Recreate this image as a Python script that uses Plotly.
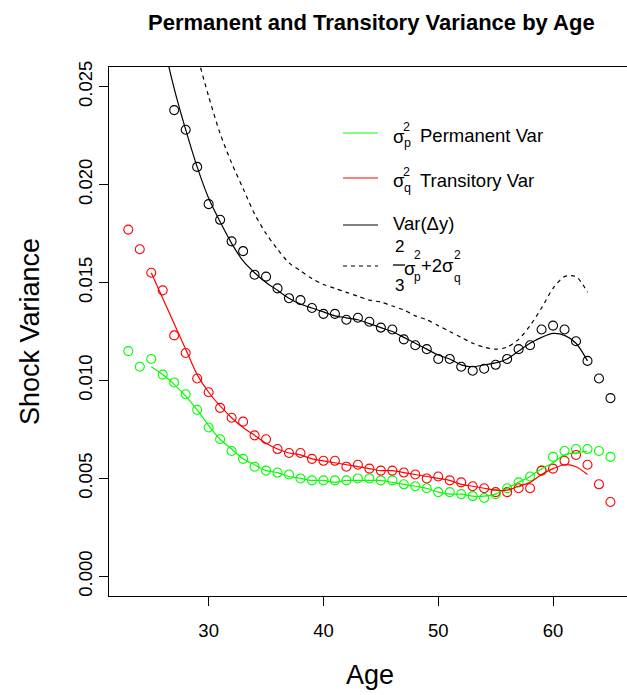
import plotly.graph_objects as go

# ---------------- data ----------------
ages = list(range(23, 66))
fit_ages = list(range(25, 64))

var_dy_pts = [None, None, None, None,
              0.0238, 0.0228, 0.0209, 0.0190, 0.0182, 0.0171, 0.0166, 0.0154, 0.0153, 0.0147,
              0.0142, 0.0141, 0.0137, 0.0134, 0.0134, 0.0131, 0.0132, 0.0130, 0.0127, 0.0126,
              0.0121, 0.0118, 0.0116, 0.0111, 0.0111, 0.0107, 0.0105, 0.0106, 0.0108, 0.0111,
              0.0116, 0.0118, 0.0126, 0.0128, 0.0126, 0.0120, 0.0110, 0.0101, 0.0091]

trans_pts = [0.0177, 0.0167, 0.0155, 0.0146, 0.0123, 0.0114, 0.0101, 0.0094, 0.0086, 0.0081,
             0.0079, 0.0072, 0.0070, 0.0065, 0.0063, 0.0063, 0.0060, 0.0059, 0.0059, 0.0056,
             0.0057, 0.0055, 0.0054, 0.0054, 0.0053, 0.0052, 0.0050, 0.0051, 0.0049, 0.0048,
             0.0046, 0.0045, 0.0043, 0.0043, 0.0045, 0.0045, 0.0054, 0.0055, 0.0059, 0.0062,
             0.0057, 0.0047, 0.0038]

perm_pts = [0.0115, 0.0107, 0.0111, 0.0103, 0.0099, 0.0093, 0.0085, 0.0076, 0.0070, 0.0064,
            0.0060, 0.0056, 0.0054, 0.0053, 0.0052, 0.0050, 0.0049, 0.0049, 0.0049, 0.0049,
            0.0050, 0.0050, 0.0049, 0.0049, 0.0047, 0.0046, 0.0045, 0.0043, 0.0043, 0.0042,
            0.0041, 0.0040, 0.0042, 0.0045, 0.0048, 0.0051, 0.0054, 0.0061, 0.0064, 0.0065,
            0.0065, 0.0064, 0.0061]

# fitted curves, ages 25..63
var_dy_fit = [0.0304, 0.0274, 0.0249, 0.0228, 0.0209, 0.0193, 0.0181, 0.0170, 0.0161, 0.0155,
              0.0150, 0.0146, 0.0142, 0.0139, 0.0137, 0.0135, 0.0133, 0.0132, 0.0131, 0.0129,
              0.0127, 0.0125, 0.0122, 0.0119, 0.0116, 0.0113, 0.0111, 0.0108, 0.0107, 0.0108,
              0.0109, 0.0111, 0.0115, 0.0119, 0.0122, 0.0124, 0.0123, 0.0119, 0.0110]

trans_fit = [0.0155, 0.0142, 0.0129, 0.0116, 0.0103, 0.0094, 0.0087, 0.0081, 0.0076, 0.0072,
             0.0068, 0.0065, 0.0063, 0.0062, 0.0060, 0.0059, 0.0058, 0.0057, 0.0056, 0.0055,
             0.0054, 0.0054, 0.0053, 0.0052, 0.0051, 0.0050, 0.0049, 0.0047, 0.0046, 0.0045,
             0.0044, 0.0044, 0.0046, 0.0048, 0.0052, 0.0055, 0.0057, 0.0056, 0.0052]

perm_fit = [0.0107, 0.0103, 0.0098, 0.0092, 0.0085, 0.0077, 0.0070, 0.0065, 0.0060, 0.0057,
            0.0054, 0.0053, 0.0051, 0.0050, 0.0049, 0.0049, 0.0048, 0.0049, 0.0049, 0.0049,
            0.0049, 0.0048, 0.0047, 0.0046, 0.0045, 0.0043, 0.0042, 0.0042, 0.0041, 0.0041,
            0.0042, 0.0045, 0.0048, 0.0051, 0.0055, 0.0058, 0.0062, 0.0063, 0.0064]

implied_fit = [0.0400, 0.0350, 0.0315, 0.0288, 0.0266, 0.0245, 0.0226, 0.0211, 0.0198, 0.0185,
               0.0175, 0.0167, 0.0160, 0.0156, 0.0152, 0.0149, 0.0147, 0.0145, 0.0143, 0.0141,
               0.0140, 0.0138, 0.0136, 0.0133, 0.0131, 0.0128, 0.0125, 0.0122, 0.0119, 0.0117,
               0.0116, 0.0117, 0.0121, 0.0128, 0.0137, 0.0147, 0.0153, 0.0153, 0.0145]

x_ticks = [30, 40, 50, 60]
y_ticks = [0.000, 0.005, 0.010, 0.015, 0.020, 0.025]
y_tick_labels = ["0.000", "0.005", "0.010", "0.015", "0.020", "0.025"]

GREEN = "#00FF00"
RED = "#FF0000"
BLACK = "#000000"
FONT = "Liberation Sans, Arial, Helvetica, sans-serif"

# ---------------- figure ----------------
W, H = 627, 695
ML, MT, MB = 109, 67, 99
PW, PH = W - ML, H - MT - MB


def P(xp, yp):
    return (xp - ML) / PW, (H - MB - yp) / PH


fig = go.Figure()

for pts, col in [(perm_pts, GREEN), (trans_pts, RED), (var_dy_pts, BLACK)]:
    fig.add_trace(go.Scatter(x=ages, y=pts, mode="markers", showlegend=False,
                             marker=dict(symbol="circle-open", size=9, color=col,
                                         line=dict(width=1.1, color=col))))

for fit, col, dash in [(perm_fit, GREEN, "solid"), (trans_fit, RED, "solid"),
                       (var_dy_fit, BLACK, "solid"), (implied_fit, BLACK, "4px,4px")]:
    fig.add_trace(go.Scatter(x=fit_ages, y=fit, mode="lines", showlegend=False,
                             line=dict(color=col, width=1.2, dash=dash,
                                       shape="spline", smoothing=0.8)))

ann = []


def text(xp, yp, s, size=18.5, anchor="left", bold=False, angle=0):
    x, y = P(xp, yp)
    ann.append(dict(x=x, y=y, xref="paper", yref="paper", text=("<b>%s</b>" % s) if bold else s,
                    showarrow=False, xanchor=anchor, yanchor="middle", textangle=angle,
                    font=dict(family=FONT, size=size, color="black")))


# title and axis titles
text(371, 22, "Permanent and Transitory Variance by Age", size=22, anchor="center", bold=True)
text(370, 675, "Age", size=27, anchor="center")
text(30, 332, "Shock Variance", size=27, anchor="center", angle=-90)

# legend
shapes = []


def lline(y, col, dash="solid"):
    x0, yy = P(343, y)
    x1, _ = P(378, y)
    shapes.append(dict(type="line", xref="paper", yref="paper", x0=x0, x1=x1, y0=yy, y1=yy,
                       line=dict(color=col, width=1.2, dash=dash)))


lline(133, GREEN)
lline(178, RED)
lline(225, BLACK)
lline(266, BLACK, "4px,4px")

# sigma_p^2 Permanent Var
text(391, 136, "σ")
text(401, 127, "2", size=12.5)
text(402, 143, "p", size=12.5)
text(418, 135, "Permanent Var")
# sigma_q^2 Transitory Var
text(391, 181, "σ")
text(401, 172, "2", size=12.5)
text(402, 188, "q", size=12.5)
text(418, 180, "Transitory Var")
# Var(Δy)
text(391, 224, "Var(Δy)")
# 2/3 sigma_p^2 + 2 sigma_q^2
text(399, 246, "2", size=17, anchor="center")
text(399, 285, "3", size=17, anchor="center")
bx0, by = P(393, 265)
bx1, _ = P(405, 265)
shapes.append(dict(type="line", xref="paper", yref="paper", x0=bx0, x1=bx1, y0=by, y1=by,
                   line=dict(color="black", width=1.3)))
text(402, 268, "σ")
text(412, 255, "2", size=12)
text(412, 277, "p", size=12)
text(419, 265, "+2σ")
text(452, 255, "2", size=12)
text(452, 278, "q", size=12)

axis_common = dict(showgrid=False, zeroline=False, showline=True, linecolor="black",
                   linewidth=1, ticks="outside", ticklen=9, tickwidth=1, tickcolor="black",
                   tickfont=dict(family=FONT, size=18.5, color="black"))

fig.update_layout(
    width=W, height=H,
    margin=dict(l=ML, r=0, t=MT, b=MB, pad=0),
    paper_bgcolor="white", plot_bgcolor="white",
    showlegend=False,
    font=dict(family=FONT, color="black"),
    xaxis=dict(range=[21.32, 21.32 + PW / 11.48], tickvals=x_ticks, mirror=True,
               ticklabelstandoff=9, **axis_common),
    yaxis=dict(range=[-0.001, 0.026], tickvals=y_ticks, ticktext=y_tick_labels,
               tickangle=-90, mirror=False, **axis_common),
    annotations=ann,
    shapes=shapes,
)

fig.write_html("out.html")
